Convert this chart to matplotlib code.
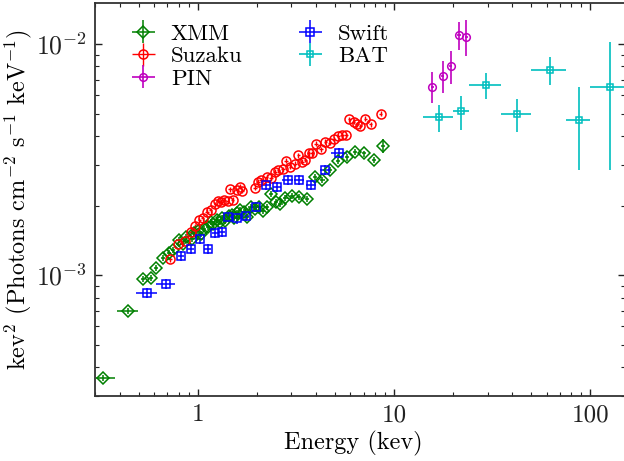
import numpy as np
import matplotlib
matplotlib.use("Agg")
import matplotlib.pyplot as plt
from matplotlib.ticker import FuncFormatter

plt.rcParams["font.family"] = "serif"
plt.rcParams["font.serif"] = ["cmr10", "DejaVu Serif"]
plt.rcParams["mathtext.fontset"] = "cm"
plt.rcParams["axes.formatter.use_mathtext"] = True
plt.rcParams["axes.unicode_minus"] = False

# XMM
xmm_e = [0.331, 0.44, 0.528, 0.577, 0.616, 0.665, 0.713, 0.752, 0.80, 0.838, 0.877, 0.935,
         0.963, 1.002, 1.04, 1.079, 1.126, 1.165, 1.203, 1.251, 1.298, 1.337, 1.384, 1.441,
         1.489, 1.536, 1.593, 1.650, 1.717, 1.783, 1.858, 1.953, 2.047, 2.142, 2.255, 2.359,
         2.50, 2.64, 2.80, 3.015, 3.295, 3.62, 3.946, 4.318, 4.73, 5.20, 5.75, 6.35, 7.04,
         7.91, 8.82]
xmm_f = [3.6e-4, 7.0e-4, 9.6e-4, 9.7e-4, 1.07e-3, 1.19e-3, 1.25e-3, 1.28e-3, 1.42e-3,
         1.37e-3, 1.46e-3, 1.44e-3, 1.52e-3, 1.56e-3, 1.50e-3, 1.58e-3, 1.62e-3, 1.70e-3,
         1.66e-3, 1.74e-3, 1.70e-3, 1.76e-3, 1.72e-3, 1.80e-3, 1.82e-3, 1.76e-3, 1.85e-3,
         1.92e-3, 1.88e-3, 1.78e-3, 1.98e-3, 1.94e-3, 1.98e-3, 1.90e-3, 1.98e-3, 2.24e-3,
         2.08e-3, 2.04e-3, 2.15e-3, 2.20e-3, 2.18e-3, 2.13e-3, 2.65e-3, 2.58e-3, 2.85e-3,
         3.13e-3, 3.23e-3, 3.42e-3, 3.36e-3, 3.15e-3, 3.62e-3]
xmm_elo = [0.304, 0.387] + [None] * 49
xmm_ehi = [0.38, 0.495] + [None] * 49
xmm_ferr = [0.03] * 50 + [0.07]

# Suzaku
suz_e = [0.723, 0.79, 0.858, 0.925, 0.973, 1.021, 1.059, 1.117, 1.165, 1.231, 1.269, 1.317,
         1.365, 1.422, 1.46, 1.508, 1.584, 1.641, 1.688, 1.963, 2.029, 2.104, 2.246, 2.359,
         2.481, 2.576, 2.717, 2.821, 2.961, 3.14, 3.26, 3.393, 3.534, 3.675, 3.816, 4.013,
         4.25, 4.465, 4.70, 4.927, 5.20, 5.426, 5.70, 5.925, 6.225, 6.475, 6.735, 7.135,
         7.59, 8.545]
suz_f = [1.17e-3, 1.37e-3, 1.41e-3, 1.54e-3, 1.63e-3, 1.73e-3, 1.76e-3, 1.88e-3, 1.91e-3,
         2.03e-3, 2.10e-3, 2.08e-3, 2.12e-3, 2.09e-3, 2.35e-3, 2.12e-3, 2.33e-3, 2.41e-3,
         2.32e-3, 2.39e-3, 2.53e-3, 2.58e-3, 2.66e-3, 2.63e-3, 2.80e-3, 2.85e-3, 2.87e-3,
         3.13e-3, 2.94e-3, 3.04e-3, 3.30e-3, 3.10e-3, 3.16e-3, 3.37e-3, 3.37e-3, 3.70e-3,
         3.50e-3, 3.78e-3, 3.74e-3, 3.87e-3, 4.00e-3, 4.04e-3, 4.04e-3, 4.72e-3, 4.60e-3,
         4.50e-3, 4.41e-3, 4.76e-3, 4.50e-3, 5.00e-3]

# PIN
pin_e = [15.68, 17.65, 19.44, 21.40, 23.35]
pin_f = [6.53e-3, 7.27e-3, 8.03e-3, 1.094e-2, 1.07e-2]
pin_flo = [5.54e-3, 6.16e-3, 6.7e-3, 9.4e-3, 8.9e-3]
pin_fhi = [7.59e-3, 8.46e-3, 9.3e-3, 1.25e-2, 1.27e-2]

# Swift
swi_e = [0.552, 0.69, 0.823, 0.92, 1.026, 1.126, 1.231, 1.327, 1.432, 1.593, 1.764, 1.982,
         2.237, 2.54, 2.87, 3.30, 3.78, 4.46, 5.27]
swi_f = [8.4e-4, 9.2e-4, 1.21e-3, 1.30e-3, 1.43e-3, 1.30e-3, 1.52e-3, 1.54e-3, 1.79e-3,
         1.76e-3, 1.80e-3, 1.98e-3, 2.45e-3, 2.40e-3, 2.58e-3, 2.58e-3, 2.45e-3, 2.85e-3,
         3.37e-3]
swi_xerr = [0.12, 0.11, 0.04, 0.04, 0.04, 0.04, 0.04, 0.04, 0.04, 0.04, 0.04, 0.05,
            0.05, 0.05, 0.06, 0.06, 0.06, 0.06, 0.09]

# BAT (8-channel bins)
bat_e = [16.94, 22.02, 29.5, 42.4, 62.5, 87.3, 125.1]
bat_f = [4.82e-3, 5.14e-3, 6.65e-3, 4.98e-3, 7.72e-3, 4.69e-3, 6.53e-3]
bat_elo = [14, 20, 24, 35, 50, 75, 100]
bat_ehi = [20, 24, 35, 50, 75, 100, 150]
bat_flo = [4.17e-3, 4.24e-3, 5.78e-3, 4.17e-3, 6.65e-3, 2.85e-3, 2.85e-3]
bat_fhi = [5.43e-3, 5.95e-3, 7.46e-3, 5.78e-3, 8.75e-3, 6.53e-3, 1.02e-2]


def sym_err(vals, rel):
    vals = np.asarray(vals)
    rel = np.asarray(rel, dtype=float)
    return np.vstack([vals * rel, vals * rel])


fig = plt.figure(figsize=(6.24, 4.61), dpi=100)
ax = fig.add_axes([95 / 624, 65 / 461, 530 / 624, 392.7 / 461])

# XMM errors: explicit for the wide low-energy bins
xe = np.array(xmm_e)
xlo = np.array([lo if lo is not None else e * 0.975 for lo, e in zip(xmm_elo, xmm_e)])
xhi = np.array([hi if hi is not None else e * 1.025 for hi, e in zip(xmm_ehi, xmm_e)])
h_xmm = ax.errorbar(xmm_e, xmm_f, xerr=[xe - xlo, xhi - xe], yerr=sym_err(xmm_f, xmm_ferr),
                    fmt="D", color="g", mfc="none", mec="g", ms=6, mew=1.1,
                    elinewidth=1.1, capsize=0, label="XMM")
h_suz = ax.errorbar(suz_e, suz_f, xerr=sym_err(suz_e, 0.02), yerr=sym_err(suz_f, 0.025),
                    fmt="o", color="r", mfc="none", mec="r", ms=6.5, mew=1.1,
                    elinewidth=1.0, capsize=0, label="Suzaku")
pe = np.array(pin_f)
h_pin = ax.errorbar(pin_e, pin_f, xerr=sym_err(pin_e, 0.02),
                    yerr=[pe - np.array(pin_flo), np.array(pin_fhi) - pe],
                    fmt="o", color="m", mfc="none", mec="m", ms=5.5, mew=1.1,
                    elinewidth=1.2, capsize=0, label="PIN")
h_swi = ax.errorbar(swi_e, swi_f, xerr=sym_err(swi_e, swi_xerr), yerr=sym_err(swi_f, 0.05),
                    fmt="s", color="b", mfc="none", mec="b", ms=6, mew=1.1,
                    elinewidth=1.1, capsize=0, label="Swift")
be = np.array(bat_e)
bf = np.array(bat_f)
h_bat = ax.errorbar(bat_e, bat_f, xerr=[be - np.array(bat_elo), np.array(bat_ehi) - be],
                    yerr=[bf - np.array(bat_flo), np.array(bat_fhi) - bf],
                    fmt="s", color="c", mfc="none", mec="c", ms=5, mew=1.1,
                    elinewidth=1.2, capsize=0, label="BAT")

ax.set_xscale("log")
ax.set_yscale("log")
ax.set_xlim(0.3, 150)
ax.set_ylim(3e-4, 1.5e-2)
ax.xaxis.set_major_formatter(FuncFormatter(lambda v, p: "%g" % v))

ax.tick_params(which="both", direction="in", top=True, right=True, colors="#222222")
ax.tick_params(axis="x", which="major", labelsize=18, pad=6)
ax.tick_params(axis="y", which="major", labelsize=18.5, pad=6)
ax.tick_params(which="major", length=5, width=1)
ax.tick_params(which="minor", length=3, width=0.8)
for s in ax.spines.values():
    s.set_linewidth(1.3)
    s.set_color("#333333")

ax.set_xlabel("Energy (kev)", fontsize=17.5)
ax.set_ylabel(r"kev$^2$ (Photons cm$^{-2}$ s$^{-1}$ keV$^{-1}$)", fontsize=17.5)
ax.xaxis.set_label_coords(0.487, -0.088)
ax.yaxis.set_label_coords(-0.115, 0.5)

ax.legend(handles=[h_xmm, h_suz, h_pin, h_swi, h_bat], ncol=2, loc="upper left",
          frameon=False, fontsize=16.5, handlelength=1.5, handletextpad=0.45,
          columnspacing=2.2, labelspacing=0.1, borderaxespad=0.5, bbox_to_anchor=(0.02, 1.0))

fig.savefig("out.png", dpi=100)
